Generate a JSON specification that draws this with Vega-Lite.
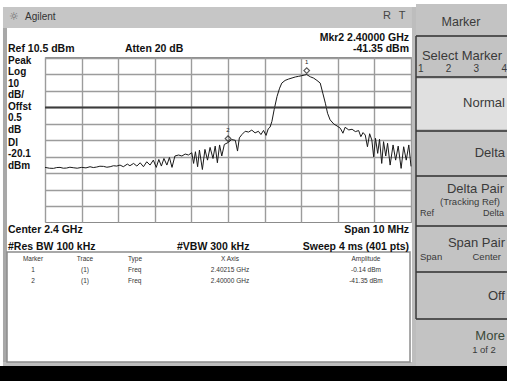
{
  "$schema": "https://vega.github.io/schema/vega-lite/v6.json",
  "width": 366,
  "height": 165,
  "autosize": {"type": "none"},
  "padding": {"left": 45, "top": 57, "right": 96, "bottom": 159},
  "background": "#ffffff",
  "config": {"view": {"stroke": "#8c8c8c", "strokeWidth": 1}},
  "data": {"values": [{}]},
  "datasets": {
    "trace": [
      {"f": 2395.00, "dBm": -56.4}, {"f": 2395.12, "dBm": -56.9}, {"f": 2395.23, "dBm": -57.0}, {"f": 2395.32, "dBm": -56.5},
      {"f": 2395.41, "dBm": -56.4}, {"f": 2395.50, "dBm": -56.9}, {"f": 2395.59, "dBm": -56.8}, {"f": 2395.68, "dBm": -56.3},
      {"f": 2395.77, "dBm": -56.6}, {"f": 2395.88, "dBm": -56.9}, {"f": 2396.00, "dBm": -56.4}, {"f": 2396.12, "dBm": -56.7},
      {"f": 2396.23, "dBm": -56.0}, {"f": 2396.32, "dBm": -56.5}, {"f": 2396.41, "dBm": -56.2}, {"f": 2396.50, "dBm": -55.7},
      {"f": 2396.60, "dBm": -55.8}, {"f": 2396.69, "dBm": -56.3}, {"f": 2396.78, "dBm": -56.0}, {"f": 2396.87, "dBm": -55.4},
      {"f": 2396.96, "dBm": -55.6}, {"f": 2397.05, "dBm": -55.0}, {"f": 2397.14, "dBm": -56.0}, {"f": 2397.25, "dBm": -54.4},
      {"f": 2397.32, "dBm": -55.4}, {"f": 2397.42, "dBm": -54.0}, {"f": 2397.51, "dBm": -55.6}, {"f": 2397.60, "dBm": -53.6},
      {"f": 2397.69, "dBm": -56.0}, {"f": 2397.78, "dBm": -53.0}, {"f": 2397.87, "dBm": -55.0}, {"f": 2397.96, "dBm": -52.0},
      {"f": 2398.04, "dBm": -56.4}, {"f": 2398.11, "dBm": -51.6}, {"f": 2398.18, "dBm": -55.6}, {"f": 2398.25, "dBm": -51.0},
      {"f": 2398.33, "dBm": -55.0}, {"f": 2398.40, "dBm": -50.4}, {"f": 2398.47, "dBm": -56.4}, {"f": 2398.55, "dBm": -49.5},
      {"f": 2398.65, "dBm": -48.9}, {"f": 2398.74, "dBm": -49.5}, {"f": 2398.83, "dBm": -48.3}, {"f": 2398.92, "dBm": -48.9},
      {"f": 2399.01, "dBm": -47.5}, {"f": 2399.06, "dBm": -54.0}, {"f": 2399.11, "dBm": -46.9}, {"f": 2399.17, "dBm": -56.0},
      {"f": 2399.22, "dBm": -45.9}, {"f": 2399.30, "dBm": -57.7}, {"f": 2399.37, "dBm": -45.5}, {"f": 2399.44, "dBm": -52.0},
      {"f": 2399.51, "dBm": -44.3}, {"f": 2399.59, "dBm": -51.0}, {"f": 2399.65, "dBm": -43.5}, {"f": 2399.71, "dBm": -53.6},
      {"f": 2399.77, "dBm": -42.8}, {"f": 2399.83, "dBm": -49.5}, {"f": 2399.90, "dBm": -42.5}, {"f": 2400.00, "dBm": -41.35},
      {"f": 2400.10, "dBm": -39.5}, {"f": 2400.20, "dBm": -40.0}, {"f": 2400.26, "dBm": -46.5}, {"f": 2400.31, "dBm": -38.5},
      {"f": 2400.38, "dBm": -36.5}, {"f": 2400.47, "dBm": -34.5}, {"f": 2400.56, "dBm": -35.0}, {"f": 2400.65, "dBm": -33.8},
      {"f": 2400.74, "dBm": -35.5}, {"f": 2400.83, "dBm": -34.5}, {"f": 2400.90, "dBm": -36.5}, {"f": 2400.97, "dBm": -34.0},
      {"f": 2401.04, "dBm": -37.0}, {"f": 2401.10, "dBm": -33.0}, {"f": 2401.15, "dBm": -32.0}, {"f": 2401.20, "dBm": -28.5},
      {"f": 2401.26, "dBm": -21.5}, {"f": 2401.34, "dBm": -13.4}, {"f": 2401.41, "dBm": -8.4}, {"f": 2401.47, "dBm": -5.3},
      {"f": 2401.56, "dBm": -3.7}, {"f": 2401.65, "dBm": -2.9}, {"f": 2401.75, "dBm": -2.2}, {"f": 2401.84, "dBm": -1.6},
      {"f": 2401.93, "dBm": -1.2}, {"f": 2402.02, "dBm": -0.8}, {"f": 2402.08, "dBm": -0.5}, {"f": 2402.15, "dBm": -0.14},
      {"f": 2402.25, "dBm": -1.5}, {"f": 2402.34, "dBm": -2.3}, {"f": 2402.43, "dBm": -3.7}, {"f": 2402.52, "dBm": -5.3},
      {"f": 2402.59, "dBm": -11.4}, {"f": 2402.66, "dBm": -17.5}, {"f": 2402.72, "dBm": -23.6}, {"f": 2402.79, "dBm": -27.6},
      {"f": 2402.89, "dBm": -30.1}, {"f": 2402.98, "dBm": -31.3}, {"f": 2403.07, "dBm": -32.7}, {"f": 2403.14, "dBm": -35.7},
      {"f": 2403.20, "dBm": -32.1}, {"f": 2403.30, "dBm": -33.7}, {"f": 2403.39, "dBm": -33.3}, {"f": 2403.48, "dBm": -34.7},
      {"f": 2403.57, "dBm": -34.1}, {"f": 2403.63, "dBm": -37.8}, {"f": 2403.69, "dBm": -35.3}, {"f": 2403.75, "dBm": -36.8},
      {"f": 2403.81, "dBm": -43.9}, {"f": 2403.87, "dBm": -36.0}, {"f": 2403.93, "dBm": -39.8}, {"f": 2403.98, "dBm": -50.0},
      {"f": 2404.03, "dBm": -38.8}, {"f": 2404.09, "dBm": -47.9}, {"f": 2404.14, "dBm": -39.4}, {"f": 2404.20, "dBm": -54.0},
      {"f": 2404.25, "dBm": -40.8}, {"f": 2404.31, "dBm": -49.5}, {"f": 2404.36, "dBm": -41.8}, {"f": 2404.43, "dBm": -55.0},
      {"f": 2404.51, "dBm": -42.8}, {"f": 2404.58, "dBm": -52.0}, {"f": 2404.65, "dBm": -43.5}, {"f": 2404.73, "dBm": -57.0},
      {"f": 2404.80, "dBm": -43.9}, {"f": 2404.87, "dBm": -52.0}, {"f": 2404.94, "dBm": -42.8}, {"f": 2405.00, "dBm": -55.8}
    ],
    "markers": [
      {"marker": "1", "f": 2402.15, "dBm": -0.14},
      {"marker": "2", "f": 2400.00, "dBm": -41.35}
    ]
  },
  "layer": [
    {
      "data": {"name": "trace"},
      "mark": {"type": "line", "stroke": "#1a1a1a", "strokeWidth": 1},
      "encoding": {
        "x": {"field": "f", "type": "quantitative", "scale": {"domain": [2395, 2405], "nice": false, "zero": false},
              "axis": {"title": null, "tickCount": 10, "grid": true, "gridColor": "#9c9c9c", "gridWidth": 1.4, "gridOpacity": 1, "labels": false, "ticks": false, "domain": false}},
        "y": {"field": "dBm", "type": "quantitative", "scale": {"domain": [-89.5, 10.5], "nice": false, "zero": false},
              "axis": {"title": null, "tickCount": 10, "grid": true, "gridColor": "#9c9c9c", "gridWidth": 1.4, "gridOpacity": 1, "labels": false, "ticks": false, "domain": false}}
      }
    },
    {"mark": {"type": "rule", "stroke": "#3c3c3c", "strokeWidth": 2}, "encoding": {"y": {"datum": -20.1}}},
    {
      "data": {"name": "markers"},
      "mark": {"type": "point", "shape": "diamond", "filled": false, "stroke": "#111111", "strokeWidth": 1.2, "size": 32, "yOffset": -4},
      "encoding": {"x": {"field": "f", "type": "quantitative"}, "y": {"field": "dBm", "type": "quantitative"}}
    },
    {
      "data": {"name": "markers"},
      "mark": {"type": "text", "font": "Liberation Sans", "fontSize": 6, "fill": "#222222", "yOffset": -13},
      "encoding": {"x": {"field": "f", "type": "quantitative"}, "y": {"field": "dBm", "type": "quantitative"}, "text": {"field": "marker"}}
    },
    {"mark": {"type": "rect", "fill": "#c6c6c6"}, "encoding": {"x": {"datum": 2393.852}, "x2": {"datum": 2405.055}, "y": {"datum": 40.803}, "y2": {"datum": 28.076}}},
    {"mark": {"type": "rect", "fill": "#a8a8a8"}, "encoding": {"x": {"datum": 2393.852}, "x2": {"datum": 2393.962}, "y": {"datum": 28.076}, "y2": {"datum": -176.773}}},
    {"mark": {"type": "rect", "fill": "#bdbdbd"}, "encoding": {"x": {"datum": 2405.027}, "x2": {"datum": 2405.137}, "y": {"datum": 40.803}, "y2": {"datum": -176.773}}},
    {"mark": {"type": "rect", "fill": "#bdbdbd"}, "encoding": {"x": {"datum": 2393.852}, "x2": {"datum": 2405.137}, "y": {"datum": -174.348}, "y2": {"datum": -176.773}}},
    {"mark": {"type": "rect", "fill": "#ffffff", "stroke": "#8c8c8c", "strokeWidth": 1.5}, "encoding": {"x": {"datum": 2393.962}, "x2": {"datum": 2404.973}, "y": {"datum": -107.682}, "y2": {"datum": -174.348}}},
    {"mark": {"type": "rect", "fill": "#c3c3c3"}, "encoding": {"x": {"datum": 2405.137}, "x2": {"datum": 2407.623}, "y": {"datum": 42.621}, "y2": {"datum": -176.773}}},
    {"mark": {"type": "rect", "fill": "#e0e0e0"}, "encoding": {"x": {"datum": 2405.137}, "x2": {"datum": 2407.623}, "y": {"datum": -2.833}, "y2": {"datum": -33.136}}},
    {"mark": {"type": "rule", "stroke": "#2e2e2e", "strokeWidth": 1.5}, "encoding": {"x": {"datum": 2405.137}, "x2": {"datum": 2407.623}, "y": {"datum": 23.227}}},
    {"mark": {"type": "rule", "stroke": "#2e2e2e", "strokeWidth": 1.5}, "encoding": {"x": {"datum": 2405.137}, "x2": {"datum": 2407.623}, "y": {"datum": -1.621}}},
    {"mark": {"type": "rule", "stroke": "#2e2e2e", "strokeWidth": 1.5}, "encoding": {"x": {"datum": 2405.137}, "x2": {"datum": 2407.623}, "y": {"datum": -34.348}}},
    {"mark": {"type": "rule", "stroke": "#2e2e2e", "strokeWidth": 1.5}, "encoding": {"x": {"datum": 2405.137}, "x2": {"datum": 2407.623}, "y": {"datum": -61.621}}},
    {"mark": {"type": "rule", "stroke": "#2e2e2e", "strokeWidth": 1.5}, "encoding": {"x": {"datum": 2405.137}, "x2": {"datum": 2407.623}, "y": {"datum": -91.924}}},
    {"mark": {"type": "rule", "stroke": "#2e2e2e", "strokeWidth": 1.5}, "encoding": {"x": {"datum": 2405.137}, "x2": {"datum": 2407.623}, "y": {"datum": -119.803}}},
    {"mark": {"type": "rule", "stroke": "#2e2e2e", "strokeWidth": 1.5}, "encoding": {"x": {"datum": 2405.137}, "x2": {"datum": 2407.623}, "y": {"datum": -148.288}}},
    {"mark": {"type": "rule", "stroke": "#3a3a3a", "strokeWidth": 1.5}, "encoding": {"x": {"datum": 2405.137}, "y": {"datum": 23.227}, "y2": {"datum": -148.288}}},
    {"mark": {"type": "rect", "fill": "#000000"}, "encoding": {"x": {"datum": 2393.770}, "x2": {"datum": 2407.623}, "y": {"datum": -176.773}, "y2": {"datum": -185.864}}},
    {"mark": {"type": "text", "font": "DejaVu Sans", "fontSize": 11, "fill": "#666666", "align": "center", "baseline": "middle"}, "encoding": {"x": {"datum": 2394.153}, "y": {"datum": 34.742}, "text": {"value": "☼"}}},
    {"mark": {"type": "text", "font": "Liberation Sans", "fontSize": 10, "fill": "#333333", "align": "left", "baseline": "middle"}, "encoding": {"x": {"datum": 2394.454}, "y": {"datum": 34.742}, "text": {"value": "Agilent"}}},
    {"mark": {"type": "text", "font": "Liberation Sans", "fontSize": 11, "fill": "#444444", "align": "center", "baseline": "middle"}, "encoding": {"x": {"datum": 2404.344}, "y": {"datum": 35.348}, "text": {"value": "R"}}},
    {"mark": {"type": "text", "font": "Liberation Sans", "fontSize": 11, "fill": "#444444", "align": "center", "baseline": "middle"}, "encoding": {"x": {"datum": 2404.754}, "y": {"datum": 35.348}, "text": {"value": "T"}}},
    {"mark": {"type": "text", "font": "Liberation Sans", "fontWeight": "bold", "fontSize": 10.5, "fill": "#111111", "align": "right", "baseline": "middle"}, "encoding": {"x": {"datum": 2404.945}, "y": {"datum": 22.0}, "text": {"value": "Mkr2  2.40000 GHz"}}},
    {"mark": {"type": "text", "font": "Liberation Sans", "fontWeight": "bold", "fontSize": 10.5, "fill": "#111111", "align": "left", "baseline": "middle"}, "encoding": {"x": {"datum": 2393.989}, "y": {"datum": 15.345}, "text": {"value": "Ref 10.5 dBm"}}},
    {"mark": {"type": "text", "font": "Liberation Sans", "fontWeight": "bold", "fontSize": 10.5, "fill": "#111111", "align": "left", "baseline": "middle"}, "encoding": {"x": {"datum": 2397.186}, "y": {"datum": 15.345}, "text": {"value": "Atten 20 dB"}}},
    {"mark": {"type": "text", "font": "Liberation Sans", "fontWeight": "bold", "fontSize": 10.5, "fill": "#111111", "align": "right", "baseline": "middle"}, "encoding": {"x": {"datum": 2404.945}, "y": {"datum": 15.345}, "text": {"value": "-41.35 dBm"}}},
    {"mark": {"type": "text", "font": "Liberation Sans", "fontWeight": "bold", "fontSize": 10, "fill": "#111111", "align": "left", "baseline": "top", "lineHeight": 11.5}, "encoding": {"x": {"datum": 2393.989}, "y": {"datum": 11.409}, "text": {"value": ["Peak", "Log", "10", "dB/", "Offst", "0.5", "dB"]}}},
    {"mark": {"type": "text", "font": "Liberation Sans", "fontWeight": "bold", "fontSize": 10, "fill": "#111111", "align": "left", "baseline": "top", "lineHeight": 11.5}, "encoding": {"x": {"datum": 2393.989}, "y": {"datum": -38.59}, "text": {"value": ["Dl", "-20.1", "dBm"]}}},
    {"mark": {"type": "text", "font": "Liberation Sans", "fontWeight": "bold", "fontSize": 10.5, "fill": "#111111", "align": "left", "baseline": "middle"}, "encoding": {"x": {"datum": 2393.989}, "y": {"datum": -94.35}, "text": {"value": "Center 2.4 GHz"}}},
    {"mark": {"type": "text", "font": "Liberation Sans", "fontWeight": "bold", "fontSize": 10.5, "fill": "#111111", "align": "right", "baseline": "middle"}, "encoding": {"x": {"datum": 2404.945}, "y": {"datum": -94.35}, "text": {"value": "Span 10 MHz"}}},
    {"mark": {"type": "text", "font": "Liberation Sans", "fontWeight": "bold", "fontSize": 10.5, "fill": "#111111", "align": "left", "baseline": "middle"}, "encoding": {"x": {"datum": 2393.989}, "y": {"datum": -104.65}, "text": {"value": "#Res BW 100 kHz"}}},
    {"mark": {"type": "text", "font": "Liberation Sans", "fontWeight": "bold", "fontSize": 10.5, "fill": "#111111", "align": "left", "baseline": "middle"}, "encoding": {"x": {"datum": 2398.607}, "y": {"datum": -104.65}, "text": {"value": "#VBW 300 kHz"}}},
    {"mark": {"type": "text", "font": "Liberation Sans", "fontWeight": "bold", "fontSize": 10.5, "fill": "#111111", "align": "right", "baseline": "middle"}, "encoding": {"x": {"datum": 2404.945}, "y": {"datum": -104.65}, "text": {"value": "Sweep 4 ms (401 pts)"}}},
    {"mark": {"type": "text", "font": "Liberation Sans", "fontSize": 6.5, "fill": "#333333", "align": "center", "baseline": "top", "lineHeight": 11}, "encoding": {"x": {"datum": 2394.672}, "y": {"datum": -110.106}, "text": {"value": ["Marker", "1", "2"]}}},
    {"mark": {"type": "text", "font": "Liberation Sans", "fontSize": 6.5, "fill": "#333333", "align": "center", "baseline": "top", "lineHeight": 11}, "encoding": {"x": {"datum": 2396.093}, "y": {"datum": -110.106}, "text": {"value": ["Trace", "(1)", "(1)"]}}},
    {"mark": {"type": "text", "font": "Liberation Sans", "fontSize": 6.5, "fill": "#333333", "align": "left", "baseline": "top", "lineHeight": 11}, "encoding": {"x": {"datum": 2397.268}, "y": {"datum": -110.106}, "text": {"value": ["Type", "Freq", "Freq"]}}},
    {"mark": {"type": "text", "font": "Liberation Sans", "fontSize": 6.5, "fill": "#333333", "align": "center", "baseline": "top", "lineHeight": 11}, "encoding": {"x": {"datum": 2400.055}, "y": {"datum": -110.106}, "text": {"value": ["X Axis", "2.40215 GHz", "2.40000 GHz"]}}},
    {"mark": {"type": "text", "font": "Liberation Sans", "fontSize": 6.5, "fill": "#333333", "align": "center", "baseline": "top", "lineHeight": 11}, "encoding": {"x": {"datum": 2403.770}, "y": {"datum": -110.106}, "text": {"value": ["Amplitude", "-0.14 dBm", "-41.35 dBm"]}}},
    {"mark": {"type": "text", "font": "Liberation Sans", "fontSize": 12.5, "fill": "#3a3a3a", "align": "center", "baseline": "middle"}, "encoding": {"x": {"datum": 2406.366}, "y": {"datum": 31.712}, "text": {"value": "Marker"}}},
    {"mark": {"type": "text", "font": "Liberation Sans", "fontSize": 13, "fill": "#3a3a3a", "align": "center", "baseline": "middle"}, "encoding": {"x": {"datum": 2406.393}, "y": {"datum": 11.106}, "text": {"value": "Select Marker"}}},
    {"mark": {"type": "text", "font": "Liberation Sans", "fontSize": 10, "fill": "#3a3a3a", "align": "center", "baseline": "middle"}, "encoding": {"x": {"datum": 2406.407}, "y": {"datum": 3.227}, "text": {"value": "1\u00a0\u00a0\u00a0\u00a0\u00a0\u00a0\u00a0\u00a02\u00a0\u00a0\u00a0\u00a0\u00a0\u00a0\u00a0\u00a03\u00a0\u00a0\u00a0\u00a0\u00a0\u00a0\u00a0\u00a04"}}},
    {"mark": {"type": "text", "font": "Liberation Sans", "fontSize": 13, "fill": "#3a3a3a", "align": "right", "baseline": "middle"}, "encoding": {"x": {"datum": 2407.568}, "y": {"datum": -17.379}, "text": {"value": "Normal"}}},
    {"mark": {"type": "text", "font": "Liberation Sans", "fontSize": 13, "fill": "#3a3a3a", "align": "right", "baseline": "middle"}, "encoding": {"x": {"datum": 2407.568}, "y": {"datum": -47.682}, "text": {"value": "Delta"}}},
    {"mark": {"type": "text", "font": "Liberation Sans", "fontSize": 13, "fill": "#3a3a3a", "align": "right", "baseline": "middle"}, "encoding": {"x": {"datum": 2407.541}, "y": {"datum": -69.5}, "text": {"value": "Delta Pair"}}},
    {"mark": {"type": "text", "font": "Liberation Sans", "fontSize": 9.5, "fill": "#3a3a3a", "align": "center", "baseline": "middle"}, "encoding": {"x": {"datum": 2406.612}, "y": {"datum": -77.379}, "text": {"value": "(Tracking Ref)"}}},
    {"mark": {"type": "text", "font": "Liberation Sans", "fontSize": 9, "fill": "#3a3a3a", "align": "left", "baseline": "middle"}, "encoding": {"x": {"datum": 2405.246}, "y": {"datum": -84.045}, "text": {"value": "Ref"}}},
    {"mark": {"type": "text", "font": "Liberation Sans", "fontSize": 9, "fill": "#3a3a3a", "align": "right", "baseline": "middle"}, "encoding": {"x": {"datum": 2407.541}, "y": {"datum": -84.045}, "text": {"value": "Delta"}}},
    {"mark": {"type": "text", "font": "Liberation Sans", "fontSize": 13, "fill": "#3a3a3a", "align": "right", "baseline": "middle"}, "encoding": {"x": {"datum": 2407.568}, "y": {"datum": -102.227}, "text": {"value": "Span Pair"}}},
    {"mark": {"type": "text", "font": "Liberation Sans", "fontSize": 9.5, "fill": "#3a3a3a", "align": "left", "baseline": "middle"}, "encoding": {"x": {"datum": 2405.246}, "y": {"datum": -110.712}, "text": {"value": "Span"}}},
    {"mark": {"type": "text", "font": "Liberation Sans", "fontSize": 9.5, "fill": "#3a3a3a", "align": "right", "baseline": "middle"}, "encoding": {"x": {"datum": 2407.459}, "y": {"datum": -110.712}, "text": {"value": "Center"}}},
    {"mark": {"type": "text", "font": "Liberation Sans", "fontSize": 13, "fill": "#3a3a3a", "align": "right", "baseline": "middle"}, "encoding": {"x": {"datum": 2407.568}, "y": {"datum": -134.348}, "text": {"value": "Off"}}},
    {"mark": {"type": "text", "font": "Liberation Sans", "fontSize": 13, "fill": "#3a4a3a", "align": "right", "baseline": "middle"}, "encoding": {"x": {"datum": 2407.568}, "y": {"datum": -158.591}, "text": {"value": "More"}}},
    {"mark": {"type": "text", "font": "Liberation Sans", "fontSize": 9.5, "fill": "#3a3a3a", "align": "center", "baseline": "middle"}, "encoding": {"x": {"datum": 2406.995}, "y": {"datum": -167.076}, "text": {"value": "1 of 2"}}}
  ]
}
